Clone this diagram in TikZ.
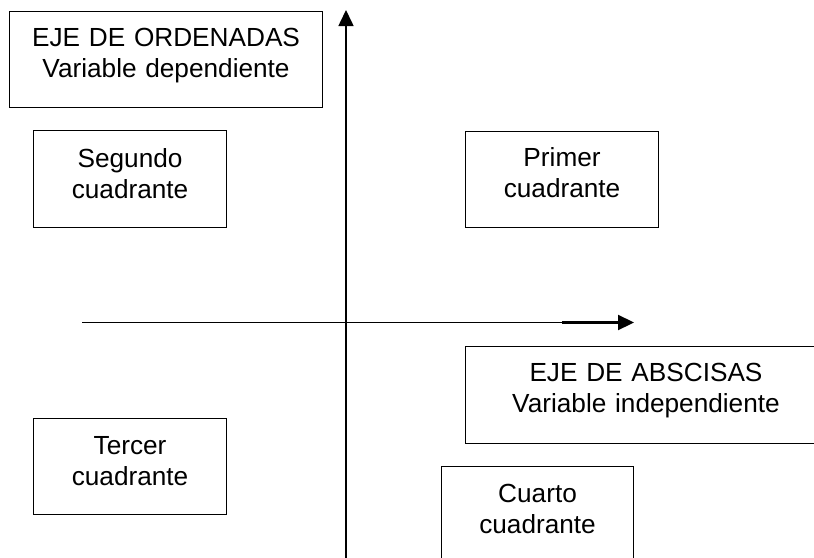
\documentclass[tikz,border=0pt]{standalone}
\usepackage{fontspec}
\setmainfont{Liberation Sans}
\usetikzlibrary{arrows.meta}
\begin{document}
\begin{tikzpicture}[x=1pt,y=-1pt,
  qbox/.style={draw=black,line width=1.1pt,rectangle,inner sep=0pt,minimum width=#1},
  qlbl/.style={anchor=base,inner sep=0pt,text width=360pt,align=center,
     font=\fontsize{26.2}{31}\selectfont},
  axis/.style={line width=1.6pt,-{Triangle[length=16pt,width=15pt]}}
]
\useasboundingbox (0,0) rectangle (814,557);
\clip (0,0) rectangle (814,557);
% boxes
\node[qbox=313pt,minimum height=96pt,anchor=north west] (ord) at (9,11) {};
\node[qbox=193pt,minimum height=97pt,anchor=north west] (seg) at (33,130) {};
\node[qbox=193pt,minimum height=96pt,anchor=north west] (pri) at (465,131) {};
\node[qbox=360pt,minimum height=97pt,anchor=north west] (abs) at (465,346) {};
\node[qbox=193pt,minimum height=96pt,anchor=north west] (ter) at (33,418) {};
\node[qbox=192pt,minimum height=110pt,anchor=north west] (cua) at (441,466) {};
% labels
\node[qlbl] (ordt) at ([yshift=-35pt]ord.north) {EJE DE ORDENADAS\\Variable dependiente};
\node[qlbl] (segt) at ([yshift=-37pt]seg.north) {Segundo\\cuadrante};
\node[qlbl] (prit) at ([yshift=-35pt]pri.north) {Primer\\cuadrante};
\node[qlbl] (abst) at (646,381.5) {EJE DE ABSCISAS\\Variable independiente};
\node[qlbl] (tert) at ([yshift=-36pt]ter.north) {Tercer\\cuadrante};
\node[qlbl] (cuat) at ([yshift=-36pt]cua.north) {Cuarto\\cuadrante};
% axes
\coordinate (vb) at (346,560);
\coordinate (vt) at (346,10);
\coordinate (hl) at (82,322.5);
\coordinate (hm) at (562,322.5);
\coordinate (hr) at (634,322.5);
\draw[axis] (vb) -- (vt);
\draw[line width=1pt] (hl) -- (hm);
\draw[axis,line width=2.2pt] (hm) -- (hr);
\end{tikzpicture}
\end{document}
